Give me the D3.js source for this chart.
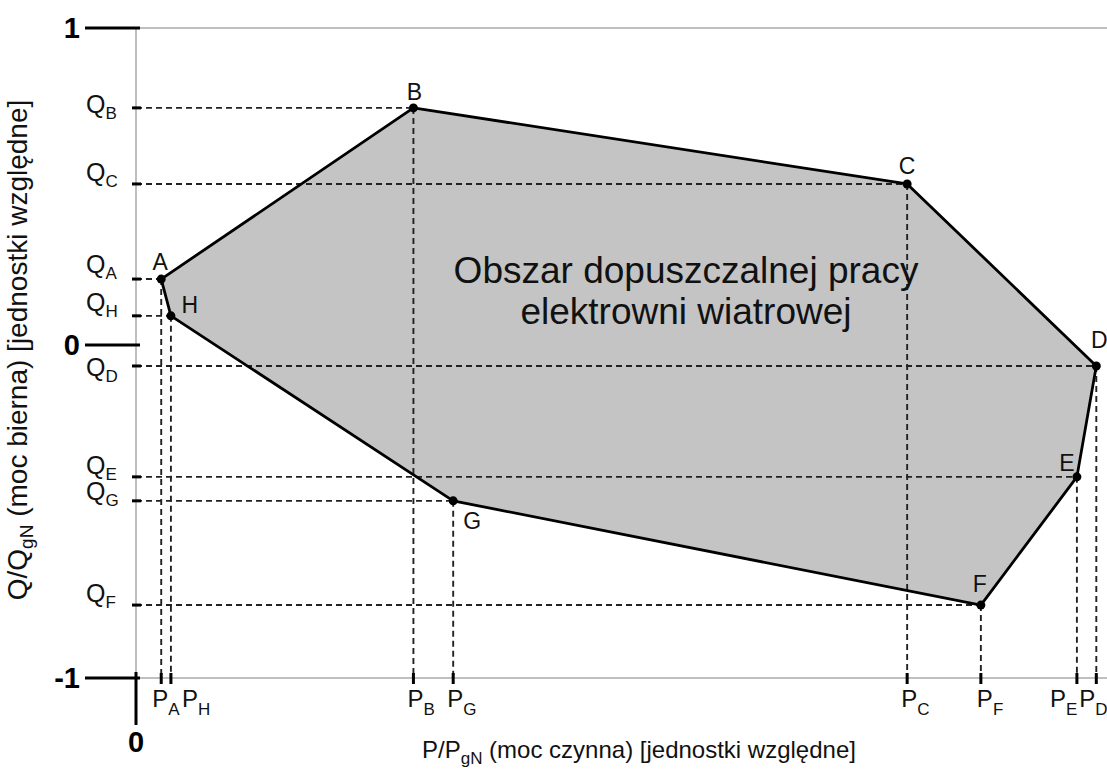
<!DOCTYPE html>
<html>
<head>
<meta charset="utf-8">
<script src="https://cdn.jsdelivr.net/npm/d3@7"></script>
<style>
  body { margin: 0; background: #fff; }
  svg { font-family: "Liberation Sans", Arial, sans-serif; }
</style>
</head>
<body>
<div id="chart-area"></div>
<script>
// vertices of the operating area, in relative units (P/PgN, Q/QgN)
let pointNames = ["A", "B", "C", "D", "E", "F", "G", "H"];
let pValues = [0.026, 0.286, 0.795, 0.990, 0.970, 0.871, 0.327, 0.036];
let qValues = [0.208, 0.748, 0.508, -0.063, -0.396, -0.781, -0.468, 0.092];
let yTicks = [1, 0, -1];
let xTicks = [0];

let width = 1107;
let height = 769;

// hand placed label offsets (dx, dy) for the drawing
let letterOffset = { A: [-1, -9], B: [1, -8], C: [0, -10], D: [3, -18], E: [-10, -6], F: [-1, -13], G: [19, 28], H: [19, -3] };
let qLabelDy = { A: -6, B: 5, C: -3, D: 10, E: -3, F: -3, G: -1, H: -5 };
let pLabelDx = { A: -9, B: -6, C: -6, D: -17, E: -27, F: -4, G: -6, H: 11 };

let data = pointNames.map((name, i) => ({ name: name, p: pValues[i], q: qValues[i] }));

let x = d3.scaleLinear().domain([0, 1]).range([136, 1106]);
let y = d3.scaleLinear().domain([-1, 0, 1]).range([678, 345, 28]);

let svg = d3.select("#chart-area")
    .append("svg")
    .attr("width", width)
    .attr("height", height);

// Shaded area
svg.append("polygon")
    .attr("points", data.map(d => x(d.p) + "," + y(d.q)).join(" "))
    .attr("fill", "#c4c4c4");

// Dashed guide lines
let guides = svg.append("g").attr("class", "guides")
    .attr("stroke", "#222")
    .attr("stroke-width", 1.9)
    .attr("stroke-dasharray", "6,4");

guides.selectAll(".hguide").data(data).enter()
    .append("line")
    .attr("x1", x(0))
    .attr("x2", d => x(d.p))
    .attr("y1", d => y(d.q))
    .attr("y2", d => y(d.q));

guides.selectAll(".vguide").data(data).enter()
    .append("line")
    .attr("x1", d => x(d.p))
    .attr("x2", d => x(d.p))
    .attr("y1", d => y(d.q))
    .attr("y2", y(-1));

// Frame lines (gray)
let frame = svg.append("g").attr("stroke", "#aaa").attr("stroke-width", 1.5);
frame.append("line").attr("x1", x(0)).attr("x2", width).attr("y1", y(1)).attr("y2", y(1));
frame.append("line").attr("x1", x(0)).attr("x2", width).attr("y1", y(-1)).attr("y2", y(-1));
frame.append("line").attr("x1", x(0)).attr("x2", x(0)).attr("y1", y(1)).attr("y2", y(-1));

// Black tick marks for the main values
svg.append("g").selectAll("line").data(yTicks).enter()
    .append("line")
    .attr("x1", 85)
    .attr("x2", x(0) + 4)
    .attr("y1", d => y(d))
    .attr("y2", d => y(d))
    .attr("stroke", "#000")
    .attr("stroke-width", 3);

svg.append("g").selectAll("line").data(xTicks).enter()
    .append("line")
    .attr("x1", d => x(d))
    .attr("x2", d => x(d))
    .attr("y1", y(-1) - 6)
    .attr("y2", y(-1) + 47)
    .attr("stroke", "#000")
    .attr("stroke-width", 3);

svg.append("g").selectAll("text").data(yTicks).enter()
    .append("text")
    .attr("x", 80)
    .attr("y", d => y(d) + 10)
    .attr("text-anchor", "end")
    .attr("font-size", 29)
    .attr("font-weight", "bold")
    .text(d => d);

svg.append("g").selectAll("text").data(xTicks).enter()
    .append("text")
    .attr("x", d => x(d))
    .attr("y", 752)
    .attr("text-anchor", "middle")
    .attr("font-size", 29)
    .attr("font-weight", "bold")
    .text(d => d);

// small black marks where guides meet the axes
svg.append("g").selectAll("line").data(data).enter()
    .append("line")
    .attr("x1", x(0) - 4).attr("x2", x(0) + 5)
    .attr("y1", d => y(d.q)).attr("y2", d => y(d.q))
    .attr("stroke", "#000").attr("stroke-width", 3);

svg.append("g").selectAll("line").data(data).enter()
    .append("line")
    .attr("x1", d => x(d.p)).attr("x2", d => x(d.p))
    .attr("y1", y(-1) - 5).attr("y2", y(-1) + 6)
    .attr("stroke", "#000").attr("stroke-width", 3);

// Polygon outline and vertices
svg.append("polygon")
    .attr("points", data.map(d => x(d.p) + "," + y(d.q)).join(" "))
    .attr("fill", "none")
    .attr("stroke", "#000")
    .attr("stroke-width", 2.8)
    .attr("stroke-linejoin", "round");

svg.append("g").selectAll("circle").data(data).enter()
    .append("circle")
    .attr("cx", d => x(d.p))
    .attr("cy", d => y(d.q))
    .attr("r", 4.5)
    .attr("fill", "#000");

// Vertex letters
svg.append("g").selectAll("text").data(data).enter()
    .append("text")
    .attr("x", d => x(d.p) + letterOffset[d.name][0])
    .attr("y", d => y(d.q) + letterOffset[d.name][1])
    .attr("text-anchor", "middle")
    .attr("font-size", 23)
    .attr("fill", "#111")
    .text(d => d.name);

// Q labels on the left
let qLabels = svg.append("g").selectAll("text").data(data).enter()
    .append("text")
    .attr("x", 86)
    .attr("y", d => y(d.q) + qLabelDy[d.name])
    .attr("font-size", 25)
    .attr("fill", "#111");
qLabels.append("tspan").text("Q");
qLabels.append("tspan").attr("font-size", 17).attr("dy", 6).text(d => d.name);

// P labels along the bottom
let pLabels = svg.append("g").selectAll("text").data(data).enter()
    .append("text")
    .attr("x", d => x(d.p) + pLabelDx[d.name])
    .attr("y", 707)
    .attr("font-size", 24)
    .attr("fill", "#111");
pLabels.append("tspan").text("P");
pLabels.append("tspan").attr("font-size", 17).attr("dy", 8).text(d => d.name);

// Region caption
let caption = svg.append("text")
    .attr("text-anchor", "middle")
    .attr("font-size", 37)
    .attr("fill", "#111");
caption.append("tspan").attr("x", 686).attr("y", 283).text("Obszar dopuszczalnej pracy");
caption.append("tspan").attr("x", 686).attr("y", 324).text("elektrowni wiatrowej");

// Axis titles
let xTitle = svg.append("text")
    .attr("x", 422)
    .attr("y", 758)
    .attr("font-size", 24)
    .attr("fill", "#111");
xTitle.append("tspan").text("P/P");
xTitle.append("tspan").attr("font-size", 17).attr("dy", 6).text("gN");
xTitle.append("tspan").attr("dy", -6).text(" (moc czynna) [jednostki względne]");

let yTitle = svg.append("text")
    .attr("transform", "translate(27,350) rotate(-90)")
    .attr("text-anchor", "middle")
    .attr("font-size", 28)
    .attr("fill", "#111");
yTitle.append("tspan").text("Q/Q");
yTitle.append("tspan").attr("font-size", 19).attr("dy", 6).text("gN");
yTitle.append("tspan").attr("dy", -6).text(" (moc bierna) [jednostki względne]");
</script>
</body>
</html>
